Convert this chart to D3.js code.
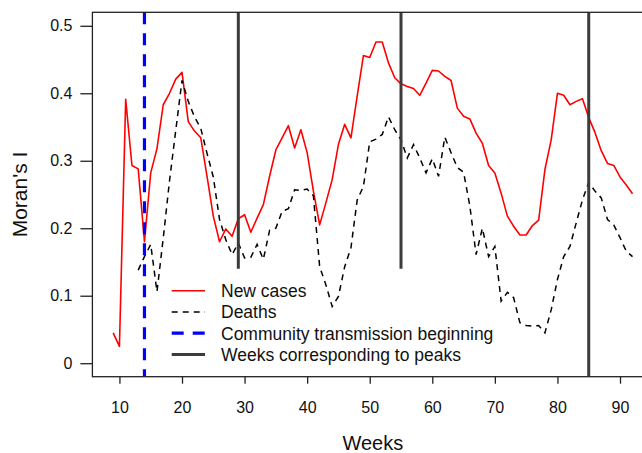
<!DOCTYPE html>
<html>
<head>
<meta charset="utf-8">
<script src="https://cdn.jsdelivr.net/npm/d3@7"></script>
<style>
  html, body { margin: 0; padding: 0; background: #fff; }
  svg { display: block; font-family: "Liberation Sans", Arial, Helvetica, sans-serif; }
</style>
</head>
<body>
<svg id="chart" width="642" height="453"></svg>
<script>
// ---- data ----
const caseWeeks = d3.range(9, 93);
const caseValues = [
  0.045, 0.025, 0.391, 0.293, 0.288, 0.180, 0.282, 0.318, 0.383, 0.400,
  0.421, 0.431, 0.358, 0.344, 0.334, 0.277, 0.218, 0.180, 0.199, 0.188,
  0.214, 0.220, 0.194, 0.215, 0.235, 0.277, 0.316, 0.334, 0.352, 0.319,
  0.346, 0.312, 0.255, 0.205, 0.238, 0.272, 0.324, 0.354, 0.334, 0.396,
  0.456, 0.453, 0.476, 0.476, 0.445, 0.423, 0.414, 0.410, 0.407, 0.397,
  0.415, 0.434, 0.433, 0.425, 0.419, 0.378, 0.366, 0.362, 0.341, 0.326,
  0.293, 0.282, 0.252, 0.218, 0.203, 0.190, 0.190, 0.204, 0.212, 0.287,
  0.331, 0.400, 0.397, 0.383, 0.388, 0.392, 0.364, 0.342, 0.315, 0.296,
  0.293, 0.276, 0.264, 0.251
];
const deathWeeks = d3.range(13, 93);
const deathValues = [
  0.138, 0.158, 0.176, 0.106, 0.185, 0.270, 0.345, 0.419, 0.388, 0.365,
  0.348, 0.311, 0.276, 0.213, 0.183, 0.161, 0.178, 0.156, 0.157, 0.176,
  0.154, 0.197, 0.200, 0.225, 0.229, 0.257, 0.256, 0.258, 0.248, 0.143,
  0.116, 0.084, 0.099, 0.143, 0.171, 0.242, 0.262, 0.328, 0.332, 0.339,
  0.365, 0.346, 0.331, 0.304, 0.324, 0.304, 0.282, 0.303, 0.277, 0.335,
  0.312, 0.290, 0.283, 0.233, 0.161, 0.200, 0.158, 0.173, 0.092, 0.105,
  0.097, 0.060, 0.056, 0.055, 0.056, 0.045, 0.079, 0.124, 0.158, 0.173,
  0.208, 0.242, 0.268, 0.255, 0.245, 0.213, 0.205, 0.186, 0.166, 0.158
];
const transmissionWeek = 14;
const peakWeeks = [29, 55, 85];
const peakLineBottoms = [0.14, 0.14, -0.02];
const xTicks = [10, 20, 30, 40, 50, 60, 70, 80, 90];
const yTicks = [0, 0.1, 0.2, 0.3, 0.4, 0.5];
const yTickLabels = ["0", "0.1", "0.2", "0.3", "0.4", "0.5"];
const legendLabels = ["New cases", "Deaths", "Community transmission beginning", "Weeks corresponding to peaks"];
const xDomain = [5.68, 95.32];
const yDomain = [-0.02, 0.52];

// ---- layout ----
const L = 92.4, R = 653.3, T = 12.3, B = 376.7;
const svg = d3.select("#chart");
const x = d3.scaleLinear().domain(xDomain).range([L, R]);
const y = d3.scaleLinear().domain(yDomain).range([B, T]);

svg.append("defs").append("clipPath").attr("id", "plotclip")
  .append("rect").attr("x", L).attr("y", T).attr("width", R - L).attr("height", B - T);

const plot = svg.append("g").attr("clip-path", "url(#plotclip)");

const line = d3.line().x(d => x(d[0])).y(d => y(d[1]));

// new cases
plot.append("path")
  .datum(caseWeeks.map((w, i) => [w, caseValues[i]]))
  .attr("d", line).attr("fill", "none")
  .attr("stroke", "#ff0000").attr("stroke-width", 1.6).attr("stroke-linejoin", "round");

// deaths
plot.append("path")
  .datum(deathWeeks.map((w, i) => [w, deathValues[i]]))
  .attr("d", line).attr("fill", "none")
  .attr("stroke", "#000").attr("stroke-width", 1.5)
  .attr("stroke-dasharray", "6,5");

// community transmission line
plot.append("line")
  .attr("x1", x(transmissionWeek)).attr("x2", x(transmissionWeek))
  .attr("y1", y(yDomain[1])).attr("y2", y(yDomain[0]))
  .attr("stroke", "#0000ff").attr("stroke-width", 3.2)
  .attr("stroke-dasharray", "12,9");

// peak lines
plot.selectAll("line.peak").data(peakWeeks).enter().append("line")
  .attr("class", "peak")
  .attr("x1", d => x(d)).attr("x2", d => x(d))
  .attr("y1", y(yDomain[1]))
  .attr("y2", (d, i) => y(peakLineBottoms[i]))
  .attr("stroke", "#3c3c3c").attr("stroke-width", 3);

// box
svg.append("rect").attr("x", L).attr("y", T).attr("width", R - L).attr("height", B - T)
  .attr("fill", "none").attr("stroke", "#222").attr("stroke-width", 1.3);

// x axis
const xAxis = svg.append("g").attr("transform", `translate(0,${B})`)
  .call(d3.axisBottom(x).tickValues(xTicks).tickSize(7).tickFormat(d3.format("d")));
xAxis.select(".domain").remove();
xAxis.selectAll(".tick line").attr("stroke", "#222").attr("stroke-width", 1.3);
xAxis.selectAll("text").attr("y", 36.6).attr("dy", null)
  .attr("font-size", 16).attr("fill", "#111").attr("font-family", null);

// y axis
const yAxis = svg.append("g").attr("transform", `translate(${L},0)`)
  .call(d3.axisLeft(y).tickValues(yTicks).tickSize(12).tickPadding(8)
    .tickFormat((d, i) => yTickLabels[i]));
yAxis.select(".domain").remove();
yAxis.selectAll(".tick line").attr("stroke", "#222").attr("stroke-width", 1.3);
yAxis.selectAll("text").attr("font-size", 16).attr("fill", "#111").attr("font-family", null);

// axis titles
svg.append("text").attr("x", (L + R) / 2).attr("y", 450)
  .attr("text-anchor", "middle").attr("font-size", 20).attr("fill", "#111").text("Weeks");
svg.append("text").attr("transform", `translate(27,${(T + B) / 2}) rotate(-90)`)
  .attr("text-anchor", "middle").attr("font-size", 21).attr("fill", "#111").text("Moran's I");

// legend
const legendStyles = [
  { stroke: "#ff0000", width: 1.5, dash: null },
  { stroke: "#000", width: 1.5, dash: "6,5" },
  { stroke: "#0000ff", width: 3.2, dash: "12,9" },
  { stroke: "#3c3c3c", width: 3, dash: null }
];
const lg = svg.append("g");
const rowY0 = 290.8, rowStep = 21.2;
legendLabels.forEach((lab, i) => {
  const yy = rowY0 + i * rowStep;
  const st = legendStyles[i];
  lg.append("line").attr("x1", 171.7).attr("x2", 205).attr("y1", yy).attr("y2", yy)
    .attr("stroke", st.stroke).attr("stroke-width", st.width)
    .attr("stroke-dasharray", st.dash);
  lg.append("text").attr("x", 221).attr("y", yy).attr("dy", "0.36em")
    .attr("font-size", 17.5).attr("fill", "#111").text(lab);
});
</script>
</body>
</html>
